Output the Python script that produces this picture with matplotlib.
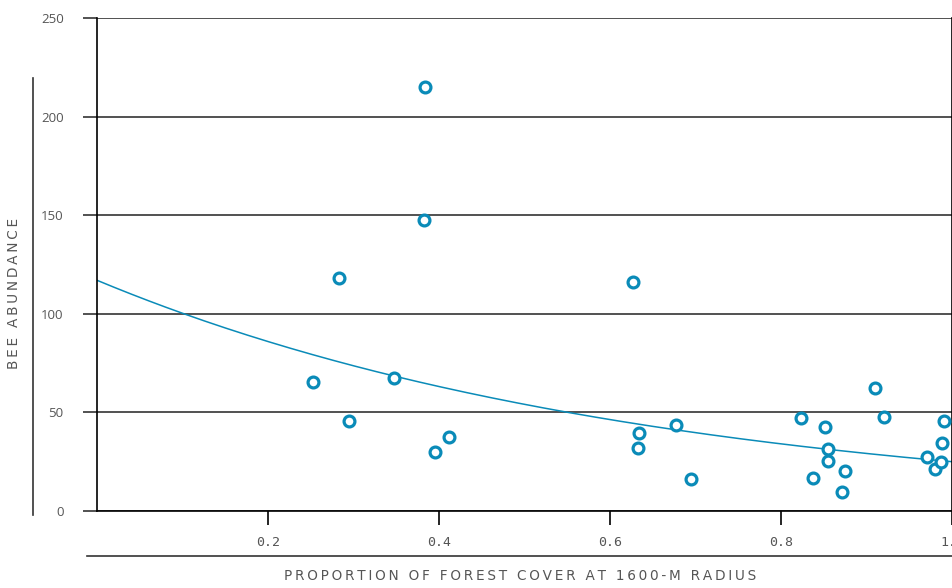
"""Bee abundance vs. proportion of forest cover at 1600-m radius."""

import matplotlib
matplotlib.use("Agg")
import matplotlib.pyplot as plt
import numpy as np

# data
forest_cover = [0.253, 0.283, 0.295, 0.347, 0.384, 0.382, 0.395, 0.412,
                0.627, 0.634, 0.633, 0.677, 0.695,
                0.823, 0.851, 0.855, 0.855, 0.837, 0.875, 0.871,
                0.910, 0.920, 0.991, 0.988, 0.971, 0.980, 0.987]
bee_abundance = [65.4, 118.2, 45.6, 67.4, 215.0, 147.6, 29.9, 37.5,
                 116.0, 39.6, 31.9, 43.6, 16.2,
                 47.2, 42.6, 31.4, 25.4, 16.7, 20.3, 9.6,
                 62.4, 47.7, 45.6, 34.5, 27.4, 21.3, 24.8]

# exponential fit y = a * exp(-b * x)
fit_a = 117.0
fit_b = 1.543

x_ticks = [0.2, 0.4, 0.6, 0.8, 1.0]
x_ticklabels = ["0.2", "0.4", "0.6", "0.8", "1.0"]
y_ticks = [0, 50, 100, 150, 200, 250]

BLUE = "#0a8bb8"
GREY = "#555555"
MONO = ["DejaVu Sans Mono"]
THIN = "\u2009"


def spaced(s):
    # letter-spaced caps: thin space between letters, wider gap between words
    words = s.split(" ")
    return (THIN + " " + THIN).join(THIN.join(w) for w in words)


fig = plt.figure(figsize=(9.53, 5.88), dpi=100)
ax = fig.add_axes([97 / 953, 1 - 511 / 588, 855 / 953, 493 / 588])

ax.set_xlim(0, 1.0)
ax.set_ylim(0, 250)

ax.yaxis.grid(True, color="#333333", linewidth=1.2)
ax.set_axisbelow(True)

xs = np.linspace(0, 1.0, 200)
ax.plot(xs, fit_a * np.exp(-fit_b * xs), color=BLUE, linewidth=1.1, zorder=2)

ax.plot(forest_cover, bee_abundance, linestyle="none", marker="o",
        markersize=7.8, markerfacecolor="white", markeredgecolor=BLUE,
        markeredgewidth=2.3, zorder=3, clip_on=False)

for side in ["left", "bottom", "right"]:
    ax.spines[side].set_color("black")
    ax.spines[side].set_linewidth(1.2)
ax.spines["top"].set_visible(False)

ax.set_xticks(x_ticks)
ax.set_xticklabels(x_ticklabels, family=MONO, color=GREY, fontsize=9.5)
ax.set_yticks(y_ticks)
ax.set_yticklabels([str(v) for v in y_ticks], family=["Open Sans"],
                   color=GREY, fontsize=9.5)
ax.tick_params(axis="x", length=10, width=1.2, pad=8)
ax.tick_params(axis="y", length=10, width=1.2, pad=14, color="#333333")

# decorative axis-label rules
fig.add_artist(plt.Line2D([33 / 953, 33 / 953], [1 - 78 / 588, 1 - 515 / 588],
                          color="#333333", linewidth=1.2))
fig.add_artist(plt.Line2D([87 / 953, 1.0], [1 - 556 / 588, 1 - 556 / 588],
                          color="#333333", linewidth=1.2))

fig.text(520 / 953, 1 - 576 / 588, spaced("PROPORTION OF FOREST COVER AT 1600-M RADIUS"),
         ha="center", va="center", family=["DejaVu Sans"], color=GREY, fontsize=9.8)
fig.text(14 / 953, 1 - 293 / 588, spaced("BEE ABUNDANCE"), rotation=90,
         ha="center", va="center", family=["DejaVu Sans"], color=GREY, fontsize=9.8)

fig.savefig("out.png", dpi=100)
